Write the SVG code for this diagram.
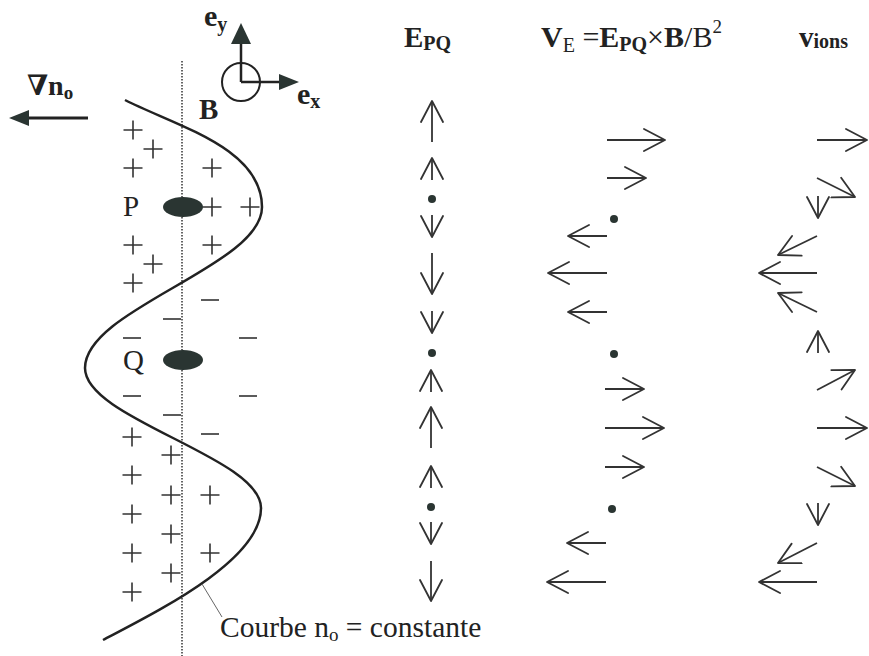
<svg xmlns="http://www.w3.org/2000/svg" width="869" height="656" viewBox="0 0 869 656">
<style>
text{font-family:"Liberation Serif","DejaVu Serif",serif;fill:#222}
.b{font-weight:bold}
.sign{stroke:#333;stroke-width:1.6;fill:none}
.arr{stroke:#333;stroke-width:1.8;fill:none;marker-end:url(#oh)}
.dot{fill:#2a3532}
</style>
<defs>
<marker id="oh" viewBox="0 0 24 26" refX="22" refY="13" markerWidth="24" markerHeight="26" markerUnits="userSpaceOnUse" orient="auto">
<path d="M1,2 L22,13 L1,24" fill="none" stroke="#333" stroke-width="1.8" stroke-linecap="round" stroke-linejoin="round"/>
</marker>
<path id="plus" d="M-9.5,0 H9.5 M0,-9.5 V9.5" class="sign"/>
<path id="minus" d="M-9,0 H9" class="sign"/>
</defs>
<rect width="869" height="656" fill="#fff"/>

<g id="axes">
<circle cx="241" cy="82" r="19" fill="none" stroke="#222" stroke-width="2"/>
<path d="M241,82 V42 M241,82 H281" stroke="#222" stroke-width="2.5" fill="none"/>
<polygon points="241,23 231,44 251,44" fill="#2a3532"/>
<polygon points="299,82 279,74 279,90" fill="#2a3532"/>
<text x="204" y="26" class="b" font-size="30">e<tspan font-size="20" dy="5">y</tspan></text>
<text x="297" y="104" class="b" font-size="30">e<tspan font-size="20" dy="4">x</tspan></text>
<text x="199" y="119" class="b" font-size="29">B</text>
</g>

<g id="gradient">
<path d="M88,118 H27" stroke="#222" stroke-width="3"/>
<polygon points="9,118 29,110 29,126" fill="#2a3532"/>
<text x="27" y="95" class="b" font-size="28">∇n<tspan font-size="19" dy="4">o</tspan></text>
</g>

<g id="field-line">
<line x1="182" y1="61" x2="182" y2="656" stroke="#333" stroke-width="1.5" stroke-dasharray="1.5,1.5"/>
<path d="M125,100 C176,126 262,148 262,207 C262,266 85,309 85,368 C85,419 261,457 261,508 C261,560 160,610 103,640" fill="none" stroke="#222" stroke-width="2.5"/>
</g>

<g id="charges">
<use href="#plus" x="133" y="130"/>
<use href="#plus" x="153" y="149"/>
<use href="#plus" x="133" y="168"/>
<use href="#plus" x="212" y="168"/>
<use href="#plus" x="212" y="207"/>
<use href="#plus" x="250" y="207"/>
<use href="#plus" x="133" y="245"/>
<use href="#plus" x="212" y="245"/>
<use href="#plus" x="153" y="264"/>
<use href="#plus" x="133" y="283"/>
<use href="#minus" x="210" y="300"/>
<use href="#minus" x="172" y="319"/>
<use href="#minus" x="132" y="338"/>
<use href="#minus" x="248" y="338"/>
<use href="#minus" x="132" y="396"/>
<use href="#minus" x="248" y="396"/>
<use href="#minus" x="172" y="415"/>
<use href="#minus" x="210" y="434"/>
<use href="#plus" x="132" y="437"/>
<use href="#plus" x="171" y="455"/>
<use href="#plus" x="132" y="475"/>
<use href="#plus" x="171" y="495"/>
<use href="#plus" x="210" y="495"/>
<use href="#plus" x="132" y="514"/>
<use href="#plus" x="171" y="534"/>
<use href="#plus" x="132" y="553"/>
<use href="#plus" x="210" y="553"/>
<use href="#plus" x="171" y="573"/>
<use href="#plus" x="132" y="592"/>
</g>

<g id="P">
<ellipse cx="183" cy="207" rx="20" ry="10" fill="#2a3532"/>
<text x="123" y="216" font-size="29">P</text>
</g>
<g id="Q">
<ellipse cx="183" cy="360" rx="20" ry="10" fill="#2a3532"/>
<text x="123" y="370" font-size="29">Q</text>
</g>

<g id="label">
<line x1="202" y1="584" x2="222" y2="617" stroke="#666" stroke-width="1"/>
<text x="220" y="637" font-size="29.5">Courbe n<tspan font-size="19" dy="4">o</tspan><tspan dy="-4"> = constante</tspan></text>
</g>

<g id="headers">
<text x="404" y="47" class="b" font-size="29">E<tspan font-size="20" dy="3">PQ</tspan></text>
<text x="541" y="47" font-size="30"><tspan class="b">V</tspan><tspan font-size="20" dy="5">E</tspan><tspan dy="-5"> =</tspan><tspan class="b">E</tspan><tspan class="b" font-size="20" dy="4">PQ</tspan><tspan dy="-4">×</tspan><tspan class="b">B</tspan>/B<tspan font-size="19" dy="-14">2</tspan></text>
<text x="799" y="47" class="b" font-size="29">v<tspan font-size="20" dy="1">ions</tspan></text>
</g>

<g id="connectors">
<g id="E-field">
<line class="arr" x1="432" y1="142" x2="432" y2="101"/>
<line class="arr" x1="432" y1="180" x2="432" y2="158"/>
<circle class="dot" cx="432" cy="199" r="4"/>
<line class="arr" x1="432" y1="215" x2="432" y2="237"/>
<line class="arr" x1="432" y1="253" x2="432" y2="294"/>
<line class="arr" x1="432" y1="311" x2="432" y2="333"/>
<circle class="dot" cx="432" cy="353" r="4"/>
<line class="arr" x1="431" y1="392" x2="431" y2="370"/>
<line class="arr" x1="431" y1="448" x2="431" y2="407"/>
<line class="arr" x1="431" y1="488" x2="431" y2="466"/>
<circle class="dot" cx="431" cy="507" r="4"/>
<line class="arr" x1="431" y1="522" x2="431" y2="544"/>
<line class="arr" x1="431" y1="561" x2="431" y2="601"/>
</g>
<g id="VE">
<line class="arr" x1="607" y1="140" x2="665" y2="140"/>
<line class="arr" x1="607" y1="178" x2="646" y2="178"/>
<circle class="dot" cx="614" cy="219" r="4"/>
<line class="arr" x1="607" y1="236" x2="568" y2="236"/>
<line class="arr" x1="607" y1="273" x2="548" y2="273"/>
<line class="arr" x1="607" y1="312" x2="568" y2="312"/>
<circle class="dot" cx="614" cy="354" r="4"/>
<line class="arr" x1="605" y1="389" x2="644" y2="389"/>
<line class="arr" x1="605" y1="428" x2="664" y2="428"/>
<line class="arr" x1="605" y1="467" x2="644" y2="467"/>
<circle class="dot" cx="612" cy="509" r="4"/>
<line class="arr" x1="606" y1="543" x2="567" y2="543"/>
<line class="arr" x1="606" y1="582" x2="547" y2="582"/>
</g>
<g id="vions">
<line class="arr" x1="817" y1="140" x2="867" y2="140"/>
<line class="arr" x1="817" y1="178" x2="855" y2="197"/>
<line class="arr" x1="818" y1="196" x2="818" y2="218"/>
<line class="arr" x1="817" y1="236" x2="778" y2="255"/>
<line class="arr" x1="817" y1="273" x2="759" y2="273"/>
<line class="arr" x1="817" y1="312" x2="778" y2="293"/>
<line class="arr" x1="818" y1="353" x2="818" y2="331"/>
<line class="arr" x1="817" y1="390" x2="855" y2="370"/>
<line class="arr" x1="817" y1="428" x2="867" y2="428"/>
<line class="arr" x1="817" y1="467" x2="855" y2="486"/>
<line class="arr" x1="818" y1="503" x2="818" y2="525"/>
<line class="arr" x1="817" y1="543" x2="778" y2="563"/>
<line class="arr" x1="817" y1="582" x2="759" y2="582"/>
</g>
</g>
</svg>
